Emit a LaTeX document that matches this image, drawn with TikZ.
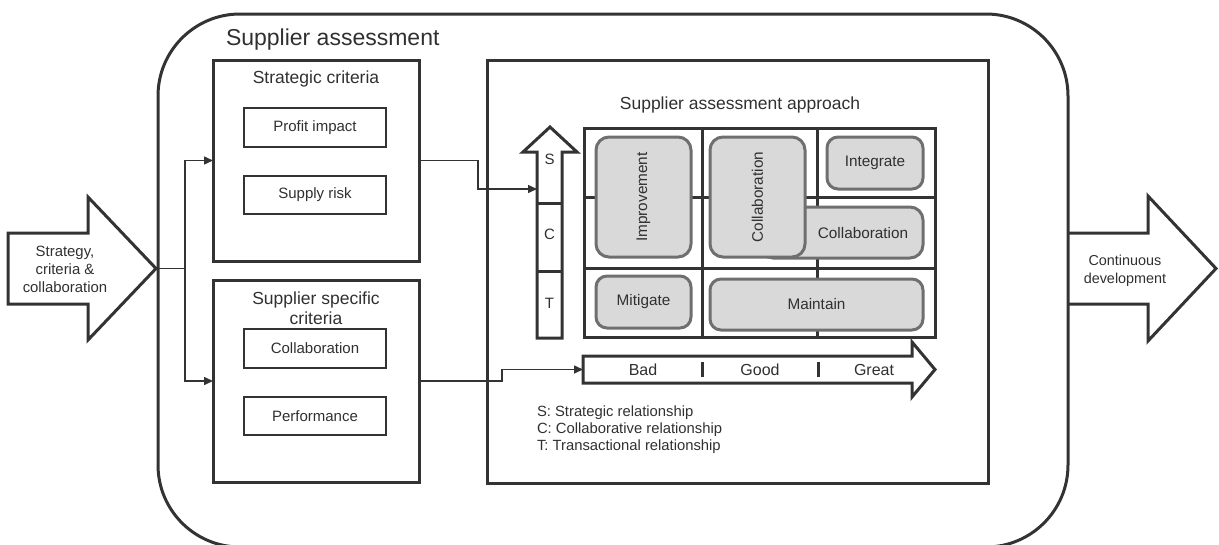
\documentclass[tikz,border=0pt]{standalone}
\usepackage{fontspec}
\setmainfont{Liberation Sans}
\usetikzlibrary{arrows.meta,calc}
\definecolor{ink}{HTML}{333333}
\definecolor{txt}{HTML}{303030}
\definecolor{cellfill}{HTML}{D9D9D9}
\definecolor{cellline}{HTML}{6F6F6F}

\begin{document}
\begin{tikzpicture}[x=1pt,y=-1pt,
  every node/.style={text=txt, inner sep=0pt, outer sep=0pt},
  frame/.style={draw=ink, line width=3pt, rectangle},
  item/.style={draw=ink, line width=1.6pt, minimum width=142pt, minimum height=38.5pt,
    font=\fontsize{15}{18}\selectfont},
  heading/.style={font=\fontsize{17.5}{20}\selectfont},
  small/.style={font=\fontsize{15}{18}\selectfont},
  legend/.style={font=\fontsize{14.8}{17}\selectfont, anchor=base west},
  cell/.style={draw=cellline, fill=cellfill, line width=3pt, rounded corners=13pt,
    font=\fontsize{15.3}{18}\selectfont},
  thick line/.style={draw=ink, line width=3pt, line join=miter},
  conn/.style={draw=ink, line width=1.5pt, -{Triangle[length=9pt,width=8pt]}},
  plain conn/.style={draw=ink, line width=1.5pt}
]
\useasboundingbox (0,0) rectangle (1219,544);

% outer container
\node[frame, rounded corners=82pt, minimum width=910pt, minimum height=533pt] (assess) at (613,280.5) {};
\node[anchor=base west, font=\fontsize{23}{27}\selectfont] (assesstitle) at (226,45) {Supplier assessment};

% strategic criteria
\node[frame, minimum width=206pt, minimum height=201pt] (strat) at (316,160.5) {};
\node[heading, anchor=base] (strattitle) at (316,83) {Strategic criteria};
\node[item] (profit) at (315,127.5) {Profit impact};
\node[item] (risk) at (315,195) {Supply risk};

% supplier specific criteria
\node[frame, minimum width=206pt, minimum height=202pt] (spec) at (316,381) {};
\node[heading, align=center] (spectitle) at (316,308.6) {Supplier specific\\criteria};
\node[item] (collab) at (315,348.5) {Collaboration};
\node[item] (perf) at (315,416) {Performance};

% assessment approach
\node[frame, minimum width=501pt, minimum height=423pt] (approach) at (737.5,271.5) {};
\node[heading] (apptitle) at (740,105) {Supplier assessment approach};

% matrix grid
\draw[thick line] (584,128) rectangle (935,337);
\draw[thick line] (702,128) -- (702,337) (817,128) -- (817,337)
                  (584,197) -- (935,197) (584,268) -- (935,268);

% matrix entries
\node[cell, minimum width=95pt, minimum height=120pt] (impr) at (643.5,197) {};
\node[rotate=90, font=\fontsize{15.3}{18}\selectfont] (imprtext) at (643.5,197) {Improvement};
\node[cell, minimum width=163pt, minimum height=51pt] (collabh) at (841.5,232.5) {};
\node[font=\fontsize{15.3}{18}\selectfont] (collabhtext) at (863,233) {Collaboration};
\node[cell, minimum width=95pt, minimum height=120pt] (collabv) at (757.5,197) {};
\node[rotate=90, font=\fontsize{15.3}{18}\selectfont] (collabvtext) at (757.5,197) {Collaboration};
\node[cell, rounded corners=11pt, minimum width=96pt, minimum height=52pt] (integ) at (875,163) {Integrate};
\node[cell, rounded corners=11pt, minimum width=95pt, minimum height=52pt] (mitig) at (643.5,302) {Mitigate};
\node[cell, rounded corners=11pt, minimum width=213pt, minimum height=51pt] (maint) at (816.5,304.5) {Maintain};

% relationship axis (vertical arrow)
\draw[thick line] (537,338) -- (537,152) -- (523,152) -- (550,127) -- (577,152)
                  -- (562,152) -- (562,338) -- cycle;
\draw[thick line] (537,203) -- (562,203) (537,271) -- (562,271);
\coordinate (relin) at (537,189);
\node[small] (rs) at (549.5,159) {S};
\node[small] (rc) at (549.5,234) {C};
\node[small] (rt) at (549.5,303) {T};

% performance axis (horizontal arrow)
\draw[thick line] (583,356) -- (912,356) -- (912,342) -- (935,369.5) -- (912,397)
                  -- (912,383) -- (583,383) -- cycle;
\draw[thick line] (702,362) -- (702,377) (818,362) -- (818,377);
\coordinate (perfin) at (583,369.5);
\node[font=\fontsize{16}{18}\selectfont] (bad) at (643,369.5) {Bad};
\node[font=\fontsize{16}{18}\selectfont] (good) at (760,369.5) {Good};
\node[font=\fontsize{16}{18}\selectfont] (great) at (874,369.5) {Great};

% legend
\node[legend] (legs) at (537,416) {S: Strategic relationship};
\node[legend] (legc) at (537,433) {C: Collaborative relationship};
\node[legend] (legt) at (537,450) {T: Transactional relationship};

% input arrow
\draw[thick line] (8,233) -- (88,233) -- (88,197) -- (156,268.5) -- (88,340)
                  -- (88,304) -- (8,304) -- cycle;
\coordinate (intip) at (156,268.5);
\node[align=center, font=\fontsize{14.9}{18}\selectfont] (intext) at (65,269.5)
  {Strategy,\\criteria \&\\collaboration};

% output arrow
\draw[thick line] (1068,233) -- (1148,233) -- (1148,196) -- (1216,268.5) -- (1148,341)
                  -- (1148,304) -- (1068,304);
\node[align=center, font=\fontsize{14.4}{18}\selectfont] (outtext) at (1125,271)
  {Continuous\\development};

% connectors
\coordinate (split) at (185,268.5);
\draw[plain conn] (intip) -- (split);
\draw[conn] (split) |- (strat.west);
\draw[conn] (split) |- (spec.west);
\draw[conn] (strat.east) -- ++(59,0) |- (relin);
\draw[conn] (spec.east) -- ++(83,0) |- (perfin);
\end{tikzpicture}
\end{document}
